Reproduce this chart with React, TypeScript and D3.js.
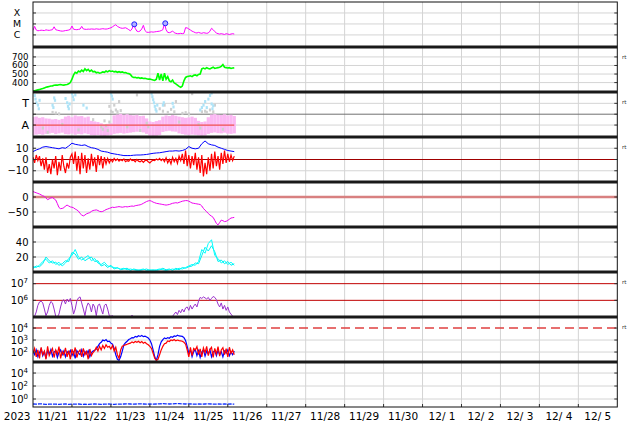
import React from 'react';
import * as d3 from 'd3';

// hours counted from 2023-11-21 00:00 UT; hourly series have one value per hour,
// 2-hourly series one value per two hours

const dayLabels = ['11/21', '11/22', '11/23', '11/24', '11/25', '11/26', '11/27', '11/28', '11/29', '11/30',
  '12/ 1', '12/ 2', '12/ 3', '12/ 4', '12/ 5'];

// GOES x-ray, hourly, in units of 1e-6 W/m2 (C1 = 1)
const xrayC = [
  2.6, 6, 2.8, 2.4, 2.5, 2.7, 2.6, 2.5, 2.9, 2.7,
  2.6, 2.8, 3.0, 5.5, 3.0, 2.7, 2.5, 2.3, 2.2, 2.3,
  2.5, 2.6, 2.8, 3.2, 6.5, 3.3, 3.1, 3.0, 3.2, 3.4,
  6, 3.5, 3.3, 3.2, 3.4, 3.3, 3.5, 3.4, 3.3, 3.6,
  3.4, 3.3, 3.5, 3.7, 3.5, 3.4, 3.6, 4.0, 4.5, 5.5,
  7, 8.5, 6, 5, 4.3, 4, 4.2, 4.5, 3.8, 3.0,
  2.4, 3.5, 9.5, 4, 2.2, 2.0, 2.3, 3.5, 7.5, 2.5,
  1.8, 1.7, 1.8, 1.9, 1.8, 1.9, 2.0, 2.1, 2.2, 2.5,
  3.0, 11, 3.0, 1.7, 1.6, 1.8, 2.3, 1.6, 1.4, 1.3,
  1.3, 1.4, 1.3, 1.4, 4.6, 4.3, 3.5, 2.8, 2.2, 1.9,
  1.6, 1.5, 1.7, 1.5, 1.4, 1.6, 1.5, 1.4, 1.5, 2.2,
  4.0, 3.0, 2.0, 1.5, 1.3, 1.2, 1.3, 1.2, 1.1, 1.3,
  1.2, 1.1, 1.2, 1.3, 1.2,
];
const flareHours = [62.4, 81.5];
const flareC = [9.3, 11.5];

// solar wind speed, hourly, km/s
const speed = [
  300, 305, 310, 315, 320, 325, 330, 338, 345, 350,
  355, 360, 362, 368, 372, 370, 375, 378, 372, 370,
  374, 378, 385, 400, 440, 490, 520, 510, 535, 525,
  545, 530, 560, 540, 555, 530, 545, 525, 530, 515,
  520, 510, 515, 525, 520, 535, 525, 540, 530, 535,
  525, 530, 520, 528, 520, 525, 515, 518, 510, 505,
  495, 470, 460, 462, 455, 458, 450, 455, 448, 450,
  445, 440, 442, 435, 430, 425, 440, 510, 430, 500,
  420, 510, 440, 470, 420, 410, 430, 395, 385, 370,
  355, 345, 360, 420, 460, 470, 475, 480, 470, 485,
  490, 480, 495, 500, 560, 570, 560, 575, 565, 560,
  570, 580, 565, 570, 575, 580, 590, 610, 580, 575,
  570, 575, 565, 570, 572,
];

// IMF sector angle (deg), 2-hourly spread of "away" points
const awayHi = [
  201, 205, 195, 200, 190, 188, 182, 185, 178, 186,
  205, 212, 200, 215, 208, 210, 198, 205, 170, 165,
  160, 150, 140, 145, 150, 215, 222, 228, 220, 225,
  218, 215, 220, 210, 212, 190, 165, 160, 168, 175,
  205, 215, 210, 218, 212, 205, 200, 195, 198, 205,
  195, 170, 160, 165, 200, 222, 226, 220, 218, 224,
  215, 220, 210,
];
const awayLo = [
  52, 56, 60, 55, 62, 65, 70, 60, 66, 72,
  60, 58, 64, 55, 62, 58, 66, 60, 50, 48,
  52, 46, 44, 48, 52, 62, 66, 70, 64, 68,
  72, 76, 80, 78, 74, 62, 48, 44, 46, 52,
  78, 84, 88, 82, 80, 66, 60, 55, 52, 56,
  54, 50, 46, 48, 62, 70, 74, 68, 66, 72,
  64, 62, 66,
];
// "toward" points: [hour, angle]
const towardPts = [
  [1, 380], [1.5, 350], [2, 320], [3, 300], [3.5, 270], [4, 340],
  [12, 300], [12.5, 280], [13, 360], [13.5, 340],
  [20, 355], [21, 320], [21.5, 290], [22, 270], [22.5, 310],
  [24, 395], [24.5, 370], [25, 345], [26, 385], [31, 300], [33, 276],
  [48, 395], [48.5, 375], [49, 350],
  [73, 395], [73.5, 370], [74, 345], [74.5, 320], [75, 290], [75.5, 265], [76, 250], [76.5, 300],
  [80, 300], [80.5, 320], [86, 315], [86.5, 285],
  [103, 260], [104, 280], [105, 300], [106, 330], [107, 280], [108, 350], [109, 380],
  [110, 310], [110.5, 270], [111, 295], [110, 400],
];
// undetermined points: [hour, angle]
const grayPts = [
  [47, 290], [48, 250], [49, 240], [50, 300], [51, 260], [52, 245], [53, 330], [54, 255],
  [12, 240], [14, 235], [16, 228], [42, 120], [43, 100], [44, 170], [45, 130], [46, 90], [47, 160],
  [78, 270], [80, 250], [81, 300], [83, 240], [85, 265], [87, 245], [88, 330],
  [92, 232], [94, 238], [96, 228], [104, 245], [106, 250], [107, 240], [109, 260], [111, 245],
  [112, 300], [64, 385], [98, 395], [70, 150], [71, 120], [102, 140], [103, 110],
  [6, 110], [9, 75], [18, 140], [28, 95], [37, 180], [58, 120], [66, 90], [90, 160], [117, 100],
];

// IMF Bt, 2-hourly, nT
const bt = [
  7, 8.5, 9.5, 11, 11.5, 11, 10.5, 10, 9.5, 10.5,
  10, 12, 14.5, 13.5, 13, 12.5, 13, 11.5, 10.5, 10,
  9, 7.5, 7, 6.5, 5.5, 5, 4.5, 4, 3.5, 3.5,
  3.5, 3.8, 4, 4, 4.2, 4.5, 5, 5.5, 5.8, 6,
  6.5, 7, 7.5, 7.5, 7.8, 7.5, 8, 9, 11.5, 10,
  9.5, 10, 14, 16.5, 14, 13, 12.5, 11, 10, 9,
  8, 7.5, 7,
];
// IMF Bz, hourly, nT
const bz = [
  2, -3, 4, -1, 3, -6, 1, -9, 2, -12,
  -4, -13, 0, -8, 3, -14, -2, -10, 4, -6,
  -12, -3, -8, 2, 5, -4, 7, -10, 3, -13,
  6, -8, 4, -12, 1, -9, 5, -6, 2, -11,
  4, -5, 3, -8, 2, -4, 1, -3, 0, -2,
  1, -1, 0.5, -1.5, 0, -1, 0.5, -2, -1, -1.5,
  0.5, -1, -0.5, -2, 0, -1.5, -2, -1, -2.5, -1,
  -0.5, -2, -3, -1.5, -0.5, -1, 0.5, -0.5, 1, -1,
  0.5, -2, 1.5, -3, 0, -4, 2, -2, 1, -3.5,
  3, -1, 5, -4, 8, -6, 4, -8, 3, -5,
  6, -9, 2, -12, 4, -15, -3, -13, 2, -10,
  5, -8, 7, -6, 3, -9, 6, -4, 8, -3,
  5, -2, 4, -1, 3,
];

// Dst, hourly, nT
const dst = [
  18, 16, 14, 12, 10, 7, 4, 2, -3, -9,
  -6, -3, -2, -6, -10, -22, -35, -39, -38, -36,
  -30, -27, -30, -33, -34, -36, -40, -43, -47, -55,
  -60, -63, -60, -56, -54, -52, -48, -45, -44, -43,
  -45, -48, -49, -48, -45, -42, -40, -38, -36, -34,
  -35, -34, -33, -32, -33, -34, -33, -32, -33, -32,
  -31, -30, -31, -29, -28, -27, -26, -24, -21, -18,
  -15, -13, -12, -14, -17, -19, -21, -22, -23, -24,
  -25, -26, -27, -26, -25, -23, -21, -20, -19, -20,
  -18, -16, -14, -13, -12, -12, -14, -17, -20, -21,
  -22, -23, -24, -25, -30, -38, -44, -49, -55, -60,
  -64, -68, -78, -88, -93, -85, -77, -79, -82, -81,
  -78, -74, -70, -69, -68,
];

// cyan traces, 2-hourly
const cyanA = [
  7, 6, 9, 14, 17, 12, 15, 10, 13, 8,
  12, 18, 22, 30, 20, 16, 19, 22, 15, 18,
  12, 10, 13, 8, 7, 6, 5, 4, 5, 3,
  4, 3, 2, 3, 4, 2, 3, 2, 3, 4,
  3, 2, 3, 4, 3, 5, 4, 6, 8, 10,
  9, 14, 30, 25, 38, 43, 22, 18, 12, 15,
  10, 13, 9,
];
const cyanB = [
  5, 8, 7, 11, 20, 15, 12, 13, 9, 11,
  15, 14, 26, 24, 17, 20, 15, 18, 20, 14,
  15, 8, 10, 6, 9, 4, 6, 3, 4, 5,
  2, 4, 3, 2, 3, 4, 2, 3, 2, 3,
  5, 3, 4, 2, 5, 3, 6, 5, 7, 8,
  12, 11, 22, 33, 28, 35, 27, 14, 16, 11,
  14, 9, 11,
];

// electron flux, hourly
const electron = [
  1e5, 1.1e5, 2e5, 5e5, 8e5, 9e5, 7e5, 3e5, 1.2e5, 2e5,
  5e5, 8.5e5, 7e5, 3e5, 1.1e5, 1e5, 1.5e5, 4e5, 9e5, 1.1e6,
  6e5, 1.2e6, 8e5, 1.3e6, 5e5, 1.5e5, 3e5, 9e5, 1.4e6, 1.6e6,
  7e5, 3e5, 1.2e5, 4e5, 7e5, 5e5, 2e5, 6e5, 4e5, 1.2e5,
  5e5, 6e5, 3e5, 1.5e5, 5e5, 6e5, 3e5, 1.2e5, 1.1e5, 1.2e5,
  1e5, 9e4, 8e4, 7e4, 7e4, 7e4, 7e4, 7e4, 7e4, 7e4,
  7e4, 1.3e5, 8e4, 6e4, 6e4, 6e4, 6e4, 6e4, 6e4, 6e4,
  6e4, 6e4, 6e4, 6e4, 1.1e5, 7e4, 6e4, 6e4, 6e4, 6e4,
  6e4, 6e4, 6e4, 6e4, 6e4, 8e4, 1.1e5, 1.5e5, 2e5, 1.4e5,
  2.5e5, 1.8e5, 3e5, 2e5, 3.5e5, 4e5, 2.5e5, 5e5, 3e5, 4.5e5,
  6e5, 4e5, 9e5, 1.5e6, 1.3e6, 1.6e6, 1.4e6, 1.2e6, 1.5e6, 1e6,
  1.3e6, 1.7e6, 1.5e6, 1.1e6, 6e5, 4e5, 7e5, 3e5, 5e5, 2.5e5,
  4e5, 2e5, 1.5e5, 1.1e5, 1e5,
];

// two flux channels, hourly
const fluxBlue = [
  120, 60, 150, 40, 90, 180, 50, 110, 30, 140,
  70, 160, 45, 100, 130, 35, 90, 150, 60, 120,
  40, 110, 75, 140, 50, 100, 30, 130, 80, 60,
  150, 45, 110, 70, 130, 40, 90, 120, 140, 180,
  300, 500, 650, 1000, 850, 1100, 750, 800, 550, 450,
  200, 60, 25, 20, 40, 120, 400, 600, 800, 1100,
  1300, 1600, 1500, 2000, 1800, 2300, 2000, 2400, 1900, 2100,
  1800, 1500, 1000, 500, 150, 40, 20, 60, 300, 700,
  1100, 1500, 1300, 1600, 1400, 1900, 1700, 2200, 2000, 2500,
  2200, 2100, 2000, 1600, 900, 300, 80, 150, 40, 110,
  160, 50, 130, 35, 100, 150, 45, 120, 70, 160,
  40, 100, 130, 50, 140, 60, 110, 40, 120, 80,
  150, 50, 100, 60, 120,
];
const fluxRed = [
  80, 200, 40, 150, 30, 250, 60, 120, 25, 300,
  50, 100, 200, 35, 150, 70, 280, 30, 110, 60,
  220, 40, 130, 25, 170, 60, 240, 35, 100, 150,
  40, 200, 60, 110, 25, 180, 50, 90, 130, 250,
  120, 300, 150, 350, 200, 400, 250, 300, 180, 350,
  120, 250, 60, 30, 150, 300, 350, 400, 450, 500,
  550, 700, 600, 750, 650, 800, 600, 750, 550, 650,
  500, 400, 300, 200, 80, 30, 20, 25, 60, 150,
  300, 500, 550, 850, 750, 1000, 900, 1100, 850, 1000,
  900, 850, 800, 650, 450, 150, 40, 250, 50, 200,
  150, 280, 60, 180, 40, 220, 90, 300, 50, 160,
  250, 35, 200, 70, 280, 45, 150, 230, 60, 190,
  40, 250, 80, 150, 60,
];

// bottom panel, 2-hourly
const lowFlux = [
  0.17, 0.16, 0.18, 0.17, 0.15, 0.16, 0.17, 0.16, 0.15, 0.16,
  0.17, 0.15, 0.16, 0.16, 0.17, 0.15, 0.16, 0.15, 0.16, 0.17,
  0.16, 0.15, 0.16, 0.17, 0.16, 0.15, 0.16, 0.16, 0.17, 0.18,
  0.17, 0.16, 0.17, 0.18, 0.17, 0.16, 0.17, 0.16, 0.17, 0.18,
  0.19, 0.18, 0.17, 0.18, 0.19, 0.2, 0.18, 0.17, 0.18, 0.17,
  0.16, 0.17, 0.16, 0.17, 0.18, 0.17, 0.16, 0.17, 0.16, 0.17,
  0.16, 0.17, 0.16,
];

const W = 634;
const H = 424;
const LEFT = 33;
const RIGHT = 617.3;
const TOP = 2;
const PH = 45;
const NP = 9;
const pt = (i: number) => TOP + i * PH;

const x = d3.scaleLinear().domain([0, 360]).range([LEFT, RIGHT]);

const yXray = d3.scaleLog().domain([Math.pow(10, -7.1), 1e-3]).range([pt(1), pt(0)]);
const ySpeed = d3.scaleLinear().domain([290, 816]).range([pt(2), pt(1)]);
const yPhi = d3.scaleLinear().domain([36, 409]).range([pt(3), pt(2)]);
const yB = d3.scaleLinear().domain([-20, 20]).range([pt(4), pt(3)]);
const yDst = d3.scaleLinear().domain([-100, 50]).range([pt(5), pt(4)]);
const yCyan = d3.scaleLinear().domain([0, 60]).range([pt(6), pt(5)]);
const yElec = d3.scaleLog().domain([1e5, Math.pow(10, 7.7)]).range([pt(7), pt(6)]);
const yFlux = d3.scaleLog().domain([Math.pow(10, 1.17), Math.pow(10, 4.92)]).range([pt(8), pt(7)]);
const yLow = d3.scaleLog().domain([Math.pow(10, -1.23), Math.pow(10, 5.7)]).range([pt(9), pt(8)]);

const linePath = (values: number[], step: number, y: (v: number) => number) =>
  d3.line<number>().x((_, i) => x(i * step)).y(v => y(v))(values) || '';

const GRID = '#d4d4d4';
const FONT = 'DejaVu Sans, sans-serif';

const Pow10 = ({ yv, n }: { yv: number; n: number }) => (
  <text x={28} y={yv + 3.5} textAnchor="end" fontSize={10}>
    10<tspan dy={-4} fontSize={7}>{n}</tspan>
  </text>
);

const NumLabel = ({ yv, t, fs = 10 }: { yv: number; t: string; fs?: number }) => (
  <text x={28.5} y={yv + fs * 0.35} textAnchor="end" fontSize={fs}>{t}</text>
);

const HLine = ({ yv, color = GRID, w = 1, dash }: { yv: number; color?: string; w?: number; dash?: string }) => (
  <line x1={LEFT} x2={RIGHT} y1={yv} y2={yv} stroke={color} strokeWidth={w} strokeDasharray={dash} />
);

export default function App() {
  const days = d3.range(1, 15);
  const xrayY = (v: number) => yXray(v * 1e-6);
  const gridYs = [
    yXray(1e-4), yXray(1e-5), yXray(1e-6),
    ySpeed(400), ySpeed(500), ySpeed(600), ySpeed(700),
    yPhi(315), yPhi(135),
    yB(10), yB(-10),
    yDst(-50),
    yCyan(20), yCyan(40),
    yFlux(1e3), yFlux(1e2),
    yLow(1e4), yLow(1e2), yLow(1),
  ];
  const tickYs = gridYs.concat([yPhi(225), yB(0), yDst(0), yElec(1e7), yElec(1e6), yFlux(1e4)]);
  const clip = (i: number) => `url(#clip${i})`;
  const binW = x(2) - x(0);

  return (
    <svg width={W} height={H} style={{ position: 'absolute', left: 0, top: 0, background: '#fff' }} fontFamily={FONT}>
      <defs>
        {d3.range(NP).map(i => (
          <clipPath key={i} id={`clip${i}`}>
            <rect x={LEFT} y={pt(i)} width={RIGHT - LEFT} height={PH} />
          </clipPath>
        ))}
      </defs>

      {/* grid */}
      {days.map(d => (
        <line key={d} x1={x(d * 24)} x2={x(d * 24)} y1={TOP} y2={pt(NP)} stroke={GRID} strokeWidth={1} />
      ))}
      {gridYs.map((g, i) => <HLine key={i} yv={g} />)}

      {/* panel 1: x-ray */}
      <g clipPath={clip(0)}>
        <path d={linePath(xrayC, 1, xrayY)} fill="none" stroke="#ff00ff" strokeWidth={1} />
        {flareHours.map((h, i) => (
          <circle key={i} cx={x(h)} cy={xrayY(flareC[i])} r={2.5} fill="#b0b0ff" stroke="#2020ff" strokeWidth={1} />
        ))}
      </g>

      {/* panel 2: speed */}
      <g clipPath={clip(1)}>
        <path d={linePath(speed, 1, ySpeed)} fill="none" stroke="#00ff00" strokeWidth={1.6} />
      </g>

      {/* panel 3: sector */}
      <g clipPath={clip(2)}>
        <HLine yv={yPhi(225)} color="#707070" />
        {awayHi.map((hi, i) => (
          <rect key={i} x={x(i * 2) - binW / 2} width={binW} y={yPhi(hi)} height={yPhi(awayLo[i]) - yPhi(hi)}
            fill="#fbb8f3" />
        ))}
        {grayPts.map(([h, a], i) => (
          <rect key={i} x={x(h) - 1} y={yPhi(a) - 1.5} width={2.2} height={3} fill="#cfcfcf" />
        ))}
        {towardPts.map(([h, a], i) => (
          <rect key={i} x={x(h) - 1} y={yPhi(a) - 1.5} width={2.2} height={3} fill="#aee3f7" />
        ))}
        <line x1={x(0)} x2={x(124)} y1={yPhi(135)} y2={yPhi(135)} stroke="#f05050" strokeWidth={1.2} />
      </g>

      {/* panel 4: IMF */}
      <g clipPath={clip(3)}>
        <HLine yv={yB(0)} color="#a00000" />
        <path d={linePath(bz, 1, yB)} fill="none" stroke="#ff0000" strokeWidth={1.2} />
        <path d={linePath(bt, 2, yB)} fill="none" stroke="#0000ff" strokeWidth={1} />
      </g>

      {/* panel 5: Dst */}
      <g clipPath={clip(4)}>
        <HLine yv={yDst(0)} color="#d88080" w={2.5} />
        <path d={linePath(dst, 1, yDst)} fill="none" stroke="#ee00ee" strokeWidth={1} />
      </g>

      {/* panel 6 */}
      <g clipPath={clip(5)}>
        <path d={linePath(cyanB, 2, yCyan)} fill="none" stroke="#00f0f0" strokeWidth={1} />
        <path d={linePath(cyanA, 2, yCyan)} fill="none" stroke="#00ffff" strokeWidth={1} />
      </g>

      {/* panel 7: electrons */}
      <g clipPath={clip(6)}>
        <HLine yv={yElec(1e7)} color="#c00000" />
        <HLine yv={yElec(1e6)} color="#c00000" />
        <path d={linePath(electron, 1, yElec)} fill="none" stroke="#9932cc" strokeWidth={1} />
      </g>

      {/* panel 8: flux */}
      <g clipPath={clip(7)}>
        <HLine yv={yFlux(1e4)} color="#e04040" w={1.5} dash="9,5" />
        <path d={linePath(fluxBlue, 1, yFlux)} fill="none" stroke="#0000ff" strokeWidth={1.2} />
        <path d={linePath(fluxRed, 1, yFlux)} fill="none" stroke="#ff0000" strokeWidth={1.2} />
      </g>

      {/* panel 9 */}
      <g clipPath={clip(8)}>
        <path d={linePath(lowFlux, 2, yLow)} fill="none" stroke="#1030ff" strokeWidth={1.3} strokeDasharray="4,1" />
      </g>

      {/* frame */}
      {tickYs.map((t, i) => (
        <g key={i}>
          <line x1={LEFT} x2={LEFT + 3} y1={t} y2={t} stroke="#333" />
          <line x1={RIGHT - 3} x2={RIGHT} y1={t} y2={t} stroke="#333" />
        </g>
      ))}
      {days.map(d => (
        <line key={d} x1={x(d * 24)} x2={x(d * 24)} y1={pt(NP) - 3} y2={pt(NP)} stroke="#333" />
      ))}
      {d3.range(1, NP).map(i => (
        <line key={i} x1={LEFT} x2={RIGHT} y1={pt(i)} y2={pt(i)} stroke="#1a1a1a" strokeWidth={3} />
      ))}
      <rect x={LEFT} y={TOP} width={RIGHT - LEFT} height={NP * PH} fill="none" stroke="#111" strokeWidth={1} />

      {/* left labels */}
      {[['X', 1e-4], ['M', 1e-5], ['C', 1e-6]].map(([l, v]) => (
        <text key={l as string} x={17} y={yXray(v as number) + 3.4} textAnchor="middle" fontSize={9.4}>{l}</text>
      ))}
      {[400, 500, 600, 700].map(v => <NumLabel key={v} yv={ySpeed(v)} t={String(v)} fs={8.6} />)}
      <text x={29} y={yPhi(315) + 4} textAnchor="end" fontSize={11}>T</text>
      <text x={29} y={yPhi(135) + 4} textAnchor="end" fontSize={11}>A</text>
      {[10, 0, -10].map(v => <NumLabel key={v} yv={yB(v)} t={v < 0 ? `\u2212${-v}` : String(v)} />)}
      {[0, -50].map(v => <NumLabel key={v} yv={yDst(v)} t={v < 0 ? `\u2212${-v}` : String(v)} />)}
      {[20, 40].map(v => <NumLabel key={v} yv={yCyan(v)} t={String(v)} />)}
      {[7, 6].map(n => <Pow10 key={n} yv={yElec(Math.pow(10, n))} n={n} />)}
      {[4, 3, 2].map(n => <Pow10 key={n} yv={yFlux(Math.pow(10, n))} n={n} />)}
      {[4, 2, 0].map(n => <Pow10 key={n} yv={yLow(Math.pow(10, n))} n={n} />)}

      {/* right markers */}
      {[1, 2, 3, 6, 7].map(i => (
        <text key={i} x={622} y={pt(i) + 11.5} fontSize={5.5} fill="#333">rt</text>
      ))}

      {/* time axis */}
      <text x={30.5} y={420} textAnchor="end" fontSize={10.5}>2023</text>
      {dayLabels.map((l, i) => (
        <text key={l} x={x(i * 24 + 12)} y={420} textAnchor="middle" fontSize={10.5} style={{ whiteSpace: 'pre' }}>{l}</text>
      ))}
    </svg>
  );
}
